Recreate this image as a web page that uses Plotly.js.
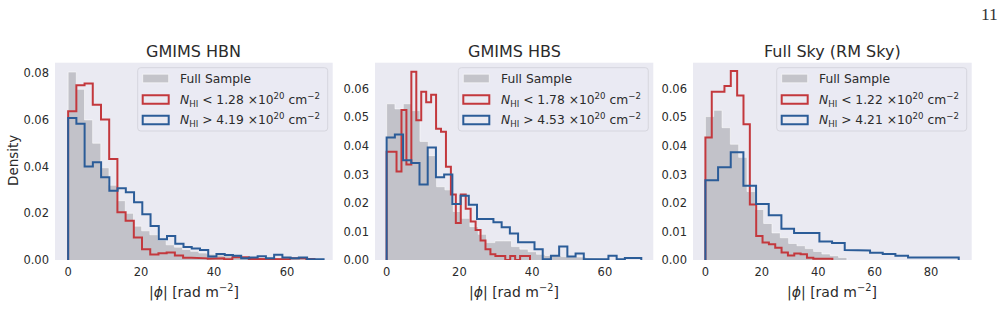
<!DOCTYPE html>
<html>
<head>
<meta charset="utf-8">
<script src="https://cdn.plot.ly/plotly-3.0.1.min.js"></script>
<style>
  html, body { margin: 0; padding: 0; background: #ffffff; }
  #chart { width: 1005px; height: 319px; }
</style>
</head>
<body>
<div id="chart"></div>
<script>
// Panel titles and N_HI thresholds (units of 10^20 cm^-2)
const panelTitles = ['GMIMS HBN', 'GMIMS HBS', 'Full Sky (RM Sky)'];
const lowThresholds = ['1.28', '1.78', '1.22'];
const highThresholds = ['4.19', '4.53', '4.21'];

// Density histograms of |phi| (rad m^-2); each series has equal-width bins over its span
const hbnFull = [0.0805, 0.0731, 0.060, 0.050, 0.0395, 0.032, 0.0254, 0.020, 0.0145, 0.0125,
  0.0108, 0.0085, 0.0065, 0.0055, 0.0045, 0.0037, 0.0030, 0.0025, 0.0021, 0.0018,
  0.0015, 0.0013, 0.0012, 0.0010, 0.0010, 0.0008, 0.0008, 0.0007, 0.0006, 0.0005, 0.0004];
const hbnFullSpan = [0, 69.4];
const hbnLow = [0.0637, 0.0748, 0.0756, 0.0665, 0.0602, 0.0433, 0.0204, 0.0168, 0.0096, 0.0046,
  0.0024, 0.0029, 0.0032, 0.0019, 0.0010, 0.0010, 0.0007, 0.0005, 0.0007, 0.0003,
  0.0012, 0.0012, 0.0004, 0.0004, 0.0004, 0.0004, 0.0003, 0.0008, 0.0008, 0.0004];
const hbnLowSpan = [0, 67.5];
const hbnHigh = [0.0608, 0.0584, 0.0400, 0.0419, 0.0354, 0.0297, 0.0307, 0.0290, 0.0247, 0.0196,
  0.0146, 0.0089, 0.0103, 0.0070, 0.0056, 0.0049, 0.0043, 0.0015, 0.0026, 0.0021,
  0.0018, 0.0008, 0.0011, 0.0016, 0.0008, 0.0023, 0.0011, 0.0008, 0.0011, 0.0003, 0.0003];
const hbnHighSpan = [0, 70.0];

const hbsFull = [0.0548, 0.0530, 0.0548, 0.0524, 0.0416, 0.0366, 0.0257, 0.0246, 0.0170, 0.0146,
  0.0117, 0.0090, 0.0061, 0.0067, 0.0067, 0.0047, 0.0038, 0.0029, 0.0020, 0.0016,
  0.0014, 0.0012, 0.0012, 0.0010, 0.0008, 0.0006];
const hbsFullSpan = [0, 59.5];
const hbsLow = [0.038, 0.038, 0.031, 0.0526, 0.0335, 0.066, 0.049, 0.059, 0.0553, 0.058,
  0.046, 0.045, 0.0327, 0.023, 0.013, 0.023, 0.018, 0.0135, 0.0105, 0.0068,
  0.0038, 0.0020, 0.0014, 0.0014, 0.0, 0.0014, 0.0, 0.0014, 0.0014];
const hbsLowSpan = [0, 39.4];
const hbsHigh = [0.043, 0.044, 0.035, 0.034, 0.0265, 0.0395, 0.029, 0.030, 0.0196, 0.0225,
  0.0194, 0.0144, 0.0144, 0.0132, 0.0115, 0.0093, 0.0062, 0.0062, 0.0038, 0.0003,
  0.0015, 0.0047, 0.0012, 0.0023, 0.0003, 0.0003, 0.0003, 0.0015, 0.0003, 0.0007, 0.0007];
const hbsHighSpan = [0, 70.0];

const skyFull = [0.0503, 0.0525, 0.0464, 0.0406, 0.0360, 0.0240, 0.0177, 0.0128, 0.0095, 0.0078,
  0.0058, 0.0050, 0.0040, 0.0030, 0.0021, 0.0015, 0.0009];
const skyFullSpan = [0, 50.15];
const skyLow = [0.043, 0.059, 0.059, 0.061, 0.0663, 0.0577, 0.0476, 0.0195, 0.0084, 0.0061,
  0.0055, 0.0043, 0.0026, 0.0016, 0.0023, 0.0020, 0.0008, 0.0004, 0.0004, 0.0004];
const skyLowSpan = [0, 45.0];
const skyHigh = [0.028, 0.0325, 0.0378, 0.026, 0.0196, 0.0157, 0.011, 0.0095, 0.0095, 0.0065,
  0.0060, 0.0035, 0.0033, 0.0025, 0.0021, 0.0015, 0.0009, 0.0009, 0.0009, 0.0009];
const skyHighSpan = [0, 89.8];

const panels = [
  { full: [hbnFull, hbnFullSpan], low: [hbnLow, hbnLowSpan], high: [hbnHigh, hbnHighSpan] },
  { full: [hbsFull, hbsFullSpan], low: [hbsLow, hbsLowSpan], high: [hbsHigh, hbsHighSpan] },
  { full: [skyFull, skyFullSpan], low: [skyLow, skyLowSpan], high: [skyHigh, skyHighSpan] }
];

// ---- figure geometry (pixels) ----
const W = 1005, H = 319;
const plotTop = 62.7, plotBottom = 260;
const panelX = [[55, 332.7], [375, 653.3], [693, 971.7]];
const xRanges = [[-3.6, 72.5], [-3.2, 73.3], [-4.4, 94.4]];
const yRanges = [[0, 0.0845], [0, 0.0692], [0, 0.0692]];
const yDticks = [0.02, 0.01, 0.01];
const xTicks = [[0, 20, 40, 60], [0, 20, 40, 60], [0, 20, 40, 60, 80]];

const FULL_FILL = 'rgba(128,128,134,0.38)';
const RED = '#c3383d';
const BLUE = '#2b5c98';
const TEXT = '#2b2b2b';
const FONT = 'DejaVu Sans, sans-serif';

const px = x => x / W;
const py = y => 1 - y / H;

// Outline of a histogram drawn as steps: up from zero, across each bin, back down to zero
function stepOutline(heights, span) {
  const n = heights.length;
  const w = (span[1] - span[0]) / n;
  const xs = [span[0]], ys = [0];
  heights.forEach((h, i) => {
    const a = span[0] + i * w, b = a + w;
    xs.push(a, b);
    ys.push(h, h);
  });
  xs.push(span[1]);
  ys.push(0);
  return { x: xs, y: ys };
}

// Rounded rectangle path in paper coordinates (pixel inputs)
function roundRect(x0, y0, x1, y1, r) {
  const X = v => px(v).toFixed(5), Y = v => py(v).toFixed(5);
  return 'M' + X(x0 + r) + ',' + Y(y0) +
    ' L' + X(x1 - r) + ',' + Y(y0) +
    ' Q' + X(x1) + ',' + Y(y0) + ' ' + X(x1) + ',' + Y(y0 + r) +
    ' L' + X(x1) + ',' + Y(y1 - r) +
    ' Q' + X(x1) + ',' + Y(y1) + ' ' + X(x1 - r) + ',' + Y(y1) +
    ' L' + X(x0 + r) + ',' + Y(y1) +
    ' Q' + X(x0) + ',' + Y(y1) + ' ' + X(x0) + ',' + Y(y1 - r) +
    ' L' + X(x0) + ',' + Y(y0 + r) +
    ' Q' + X(x0) + ',' + Y(y0) + ' ' + X(x0 + r) + ',' + Y(y0) + ' Z';
}

const data = [];
const layout = {
  width: W, height: H,
  margin: { l: 0, r: 0, t: 0, b: 0 },
  paper_bgcolor: '#ffffff',
  plot_bgcolor: '#EAEAF2',
  showlegend: false,
  font: { family: FONT, color: TEXT },
  shapes: [],
  annotations: []
};

panels.forEach((p, k) => {
  const sfx = k === 0 ? '' : String(k + 1);
  const xa = 'x' + sfx, ya = 'y' + sfx;

  const full = stepOutline(p.full[0], p.full[1]);
  data.push({
    type: 'scatter', mode: 'lines', xaxis: xa, yaxis: ya,
    x: full.x, y: full.y, fill: 'toself', fillcolor: FULL_FILL,
    line: { color: 'rgba(255,255,255,0.55)', width: 1 }, hoverinfo: 'skip'
  });
  const low = stepOutline(p.low[0], p.low[1]);
  data.push({
    type: 'scatter', mode: 'lines', xaxis: xa, yaxis: ya,
    x: low.x, y: low.y, line: { color: RED, width: 2 }, hoverinfo: 'skip'
  });
  const high = stepOutline(p.high[0], p.high[1]);
  data.push({
    type: 'scatter', mode: 'lines', xaxis: xa, yaxis: ya,
    x: high.x, y: high.y, line: { color: BLUE, width: 2 }, hoverinfo: 'skip'
  });

  layout['xaxis' + sfx] = {
    domain: [px(panelX[k][0]), px(panelX[k][1])],
    anchor: ya, range: xRanges[k],
    showgrid: false, zeroline: false, showline: false, ticks: '',
    tickmode: 'array', tickvals: xTicks[k], ticktext: xTicks[k].map(String),
    tickfont: { family: FONT, size: 11.5, color: TEXT },
    ticklabelstandoff: 3
  };
  layout['yaxis' + sfx] = {
    domain: [py(plotBottom), py(plotTop)],
    anchor: xa, range: yRanges[k],
    showgrid: false, zeroline: false, showline: false, ticks: '',
    tick0: 0, dtick: yDticks[k], tickformat: '.2f',
    tickfont: { family: FONT, size: 11.5, color: TEXT },
    ticklabelstandoff: 5
  };

  const cx = (panelX[k][0] + panelX[k][1]) / 2;
  // panel title
  layout.annotations.push({
    text: panelTitles[k], xref: 'paper', yref: 'paper',
    x: px(cx), y: py(52), xanchor: 'center', yanchor: 'middle',
    showarrow: false, font: { family: FONT, size: 16, color: TEXT }
  });
  // x-axis label
  layout.annotations.push({
    text: '|<i>ϕ</i>| [rad m<sup>−2</sup>]', xref: 'paper', yref: 'paper',
    x: px(cx), y: py(291), xanchor: 'center', yanchor: 'middle',
    showarrow: false, font: { family: FONT, size: 14, color: TEXT }
  });

  // legend box
  const right = panelX[k][1] - 5, left = right - 190;
  const top = plotTop + 5, bottom = 131;
  layout.shapes.push({
    type: 'path', xref: 'paper', yref: 'paper',
    path: roundRect(left, top, right, bottom, 3),
    fillcolor: 'rgba(234,234,242,0.8)', line: { color: '#d6d6de', width: 1 }, layer: 'above'
  });
  const rows = [top + 10.8, top + 31.8, top + 52.3];
  const labels = [
    'Full Sample',
    '<i>N</i><sub>HI</sub> &lt; ' + lowThresholds[k] + ' ×10<sup>20</sup> cm<sup>−2</sup>',
    '<i>N</i><sub>HI</sub> &gt; ' + highThresholds[k] + ' ×10<sup>20</sup> cm<sup>−2</sup>'
  ];
  const patchFill = ['rgba(196,196,202,1)', 'rgba(234,234,242,1)', 'rgba(234,234,242,1)'];
  const patchLine = [{ color: 'rgba(255,255,255,0.6)', width: 1 }, { color: RED, width: 2 }, { color: BLUE, width: 2 }];
  rows.forEach((ry, i) => {
    layout.shapes.push({
      type: 'rect', xref: 'paper', yref: 'paper',
      x0: px(left + 5), x1: px(left + 31), y0: py(ry + 4.3), y1: py(ry - 4.3),
      fillcolor: patchFill[i], line: patchLine[i], layer: 'above'
    });
    layout.annotations.push({
      text: labels[i], xref: 'paper', yref: 'paper',
      x: px(left + 40.5), y: py(ry), xanchor: 'left', yanchor: 'middle',
      showarrow: false, font: { family: FONT, size: 12.3, color: TEXT }
    });
  });
});

// shared y-axis label
layout.annotations.push({
  text: 'Density', xref: 'paper', yref: 'paper',
  x: px(13), y: py(161), xanchor: 'center', yanchor: 'middle', textangle: -90,
  showarrow: false, font: { family: FONT, size: 13.5, color: TEXT }
});
// page number
layout.annotations.push({
  text: '11', xref: 'paper', yref: 'paper',
  x: px(1000), y: py(14), xanchor: 'right', yanchor: 'middle',
  showarrow: false, font: { family: 'Liberation Serif, DejaVu Serif, serif', size: 17.5, color: '#333333' }
});

Plotly.newPlot('chart', data, layout, { staticPlot: true, displayModeBar: false });
</script>
</body>
</html>
